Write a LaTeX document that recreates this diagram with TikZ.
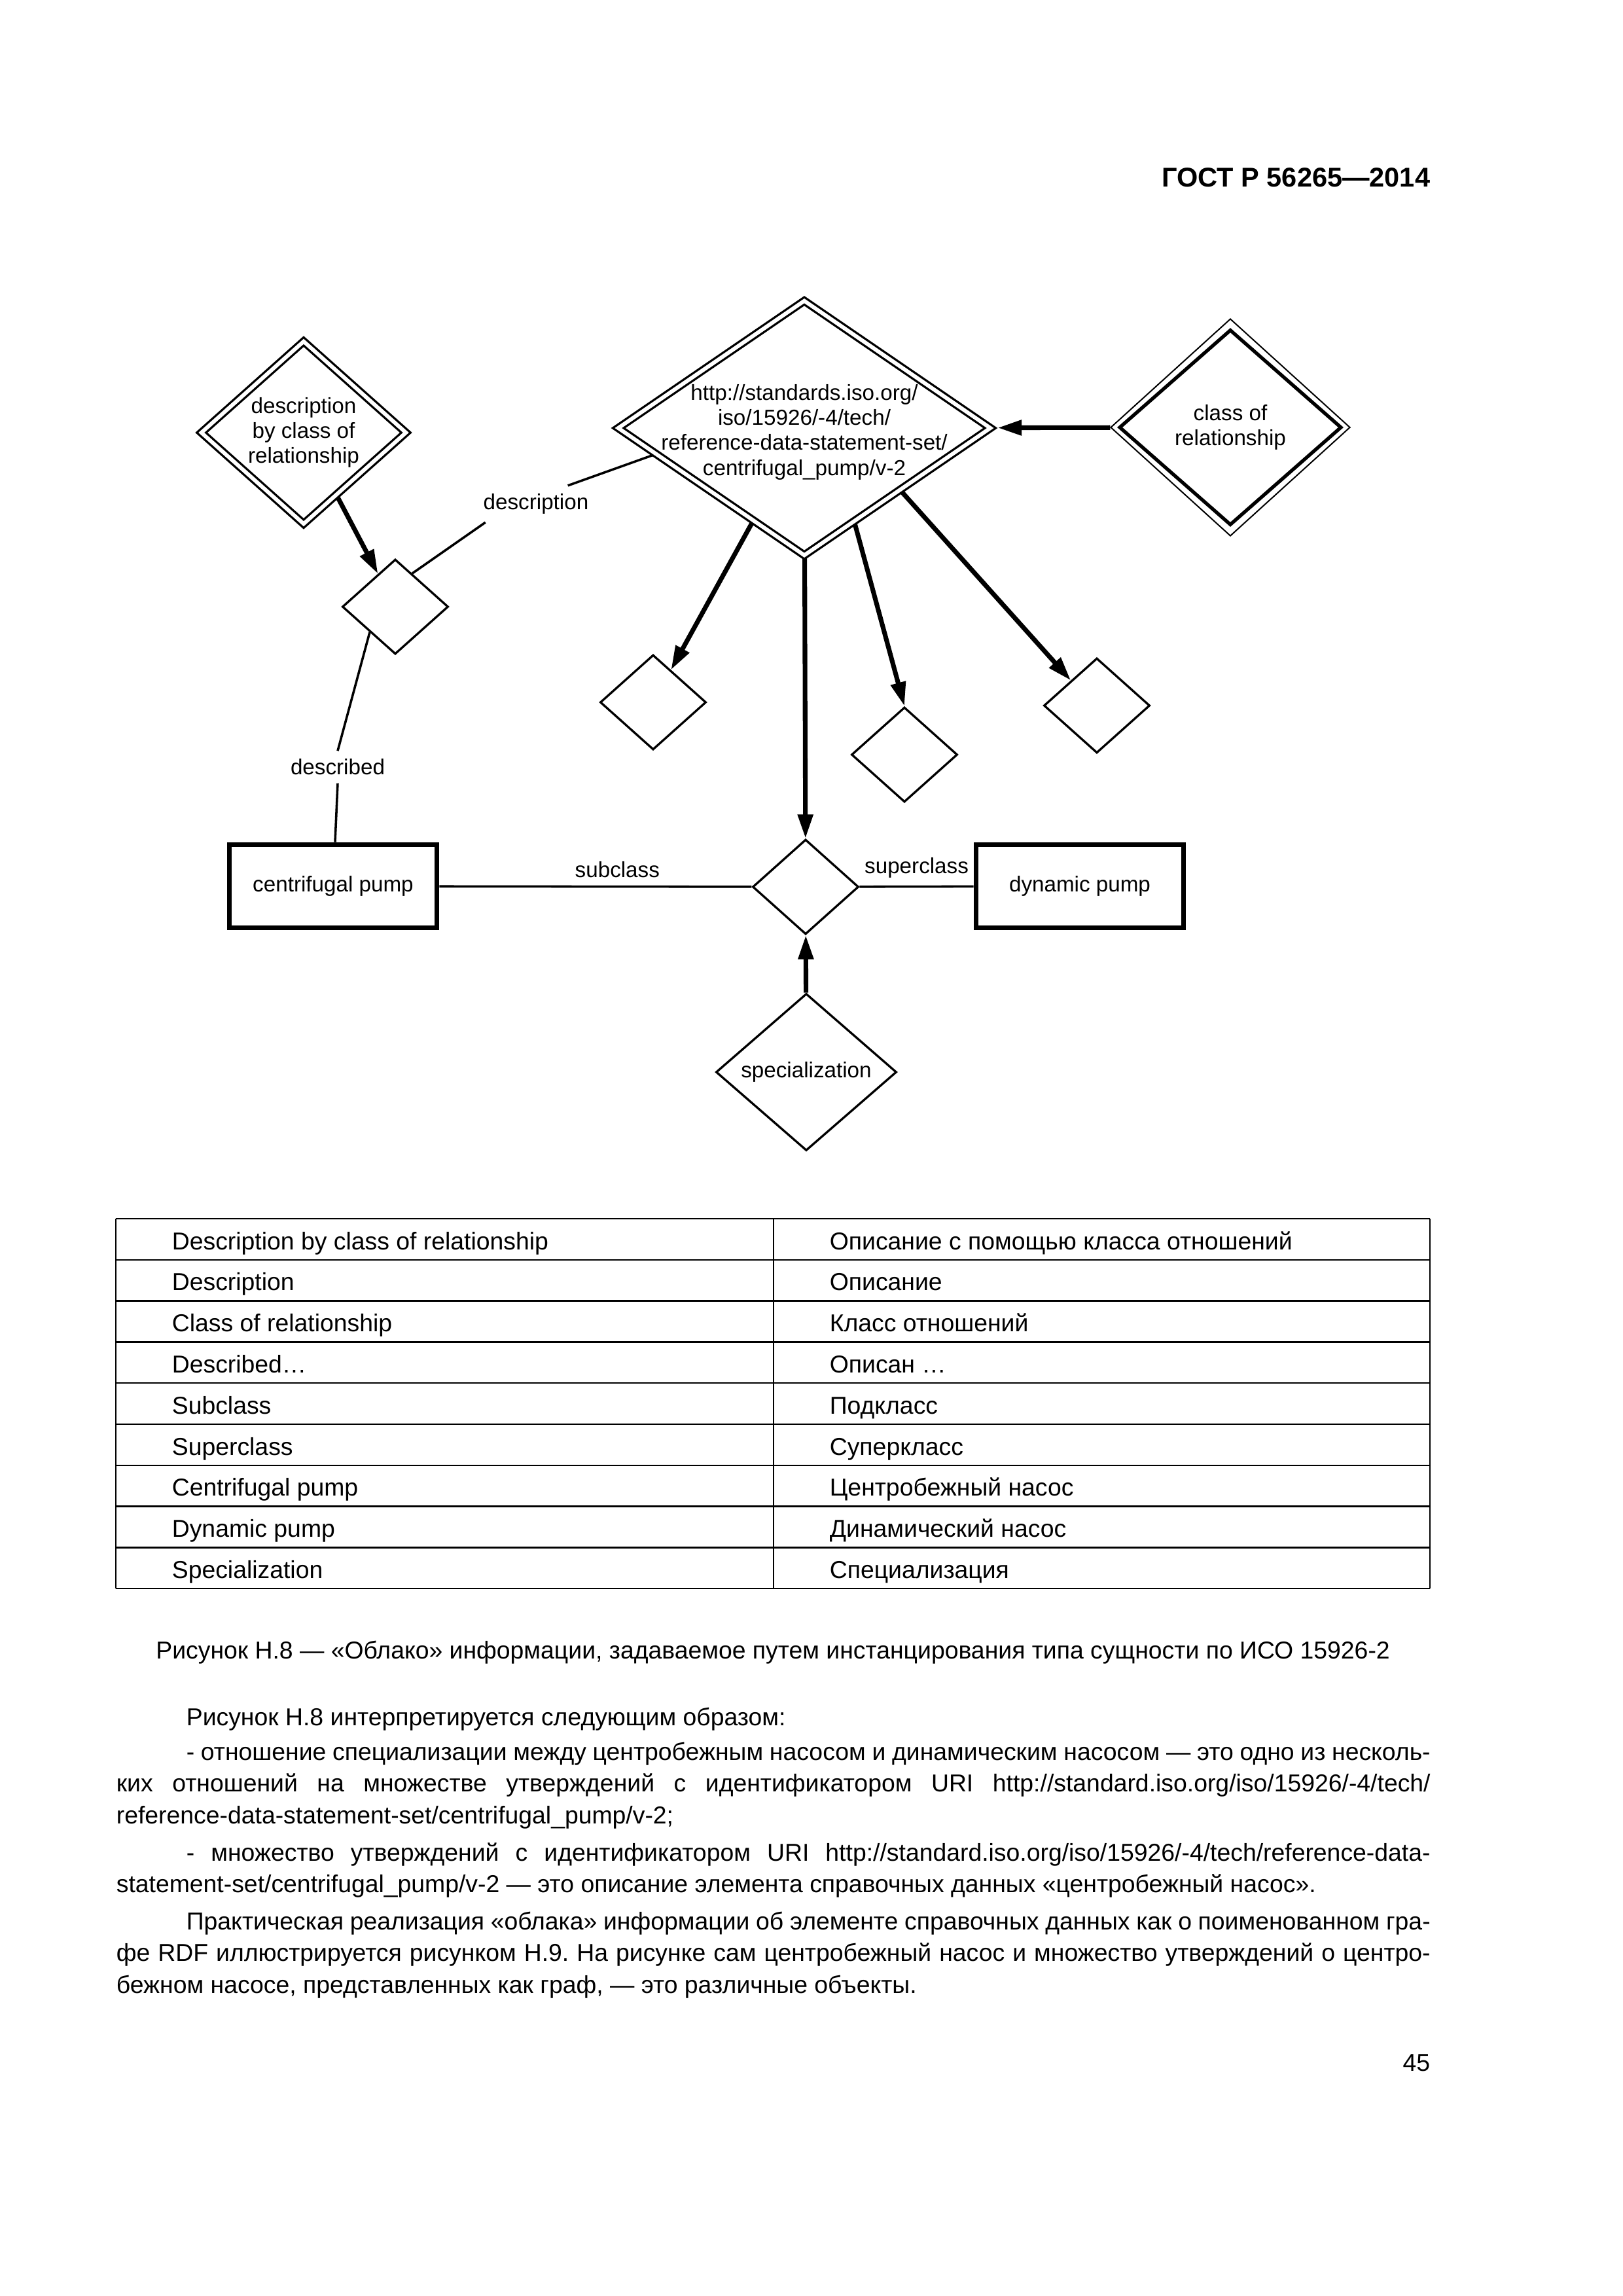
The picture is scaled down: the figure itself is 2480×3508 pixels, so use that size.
\documentclass[tikz,border=0pt]{standalone}
\usepackage{fontspec}
\setmainfont{Liberation Sans}
\usetikzlibrary{shapes.geometric, arrows.meta, backgrounds}
\newlength{\px}
\setlength{\px}{0.0846774mm}
\frenchspacing
\begin{document}
\begin{tikzpicture} [x = \px, y = -\px,
	thinline/.style = {line width = 0.3mm},
	thickarrow/.style = {line width = 0.6mm, -{Triangle[length = 3.1mm, width = 1.9mm]}},
	rel/.style = {draw, diamond, line width = 0.28mm, inner sep = 0pt, minimum width = 162\px, minimum height = 145\px, font = \fontsize{8}{9.25}\selectfont},
	dblrel/.style = {draw, diamond, double, line width = 0.28mm, double distance = 0.5mm, inner sep = 0pt, align = center, font = \fontsize{8}{9.25}\selectfont},
	pump/.style = {draw, rectangle, line width = 0.65mm, minimum width = 317\px, minimum height = 127\px, font = \fontsize{8}{9.25}\selectfont},
	lbl/.style = {inner sep = 1mm, font = \fontsize{8}{9.25}\selectfont},
	cell/.style = {anchor = base west, inner sep = 0pt, font = \fontsize{9}{11}\selectfont},
	para/.style = {anchor = base west, inner sep = 0pt, text width = 170mm, align = justify, font = \fontsize{9}{11.77}\selectfont,
		execute at begin node = {\hyphenpenalty = 10000 \exhyphenpenalty = 10000 \tolerance = 9999}}]
	\useasboundingbox (0,0) rectangle (2480,3508);
	\node [anchor = base east, inner sep = 0pt, font = \bfseries\fontsize{10}{12}\selectfont] (gost) at (2186,285) {ГОСТ Р 56265—2014};

	% relationships
	\node [dblrel, minimum width = 314\px, minimum height = 280\px] (dbcr) at (464,661) {description\\by class of\\relationship};
	\node [dblrel, minimum width = 570\px, minimum height = 390\px] (uri) at (1229,654) {};
	\node [align = center, inner sep = 0pt, font = \fontsize{8}{9.25}\selectfont] (uritext) at (1229,660) {http://standards.iso.org/\\iso/15926/-4/tech/\\reference-data-statement-set/\\centrifugal\_pump/v-2};
	\node [draw, diamond, line width = 0.17mm, inner sep = 0pt, minimum width = 366\px, minimum height = 332\px] (cor) at (1880,653) {};
	\node [draw, diamond, line width = 0.45mm, inner sep = 0pt, minimum width = 340\px, minimum height = 299\px, align = center, font = \fontsize{8}{9.25}\selectfont] (corin) at (cor) {class of\\relationship};
	\node [rel] (dsc) at (604,927) {};
	\node [rel] (da) at (998,1073) {};
	\node [rel] (db) at (1382,1153) {};
	\node [rel] (dc) at (1676,1078) {};
	\node [rel] (spec) at (1231,1355) {};
	\node [rel, minimum width = 276\px, minimum height = 240\px] (spn) at (1232,1638) {specialization};
	\node [pump] (cp) at (509,1354) {centrifugal pump};
	\node [pump] (dp) at (1650,1354) {dynamic pump};
	\node [lbl] (dlbl) at (819,770) {description};
	\node [lbl] (dd) at (516,1172) {described};

	\begin{scope} [on background layer]
	\fill [white] (0,0) rectangle (2480,3508);
	\draw [thickarrow] (dbcr) -- (dsc);
	\draw [thickarrow, shorten >= 0.8mm] (cor) -- (uri);
	\draw [thickarrow] (uri) -- (da);
	\draw [thickarrow] (uri.-62) -- (db.north);
	\draw [thickarrow] (uri.-33) -- (dc.136);
	\draw [thickarrow] (uri) -- (spec);
	\draw [thickarrow] (spn) -- (spec);
	\draw [thinline] (dsc.63) -- (dlbl.200);
	\draw [thinline] (dlbl.30) -- (uri.190);
	\draw [thinline] (dsc.225) -- (dd.north);
	\draw [thinline] (dd.south) -- (cp);
	\draw [thinline] (cp) -- (spec) node [lbl, pos = 0.57, above] (sub) {subclass};
	\draw [thinline] (spec) -- (dp) node [lbl, midway, above] (sup) {superclass};
	\end{scope}

	% table
	\foreach \i in {0,...,9}
		\draw [line width = 0.2mm] (177,{1862+62.8*\i}) -- (2185,{1862+62.8*\i});
	\foreach \x in {177,1182,2185}
		\draw [line width = 0.2mm] (\x,1862) -- (\x,2427);
	\foreach \en/\ru [count = \i from 0] in {Description by class of relationship/Описание с помощью класса отношений,
		Description/Описание, Class of relationship/Класс отношений, Described…/Описан …,
		Subclass/Подкласс, Superclass/Суперкласс, Centrifugal pump/Центробежный насос,
		Dynamic pump/Динамический насос, Specialization/Специализация} {
		\node [cell] (en\i) at (262,{1909+62.8*\i}) {\en};
		\node [cell] (ru\i) at (1267,{1909+62.8*\i}) {\ru};
	}

	\node [anchor = base, font = \fontsize{9}{11}\selectfont] (caption) at (1181,2534) {Рисунок Н.8 — «Облако» информации, задаваемое путем инстанцирования типа сущности по ИСО 15926-2};
	\node [para] (p1) at (177,2636) {\hspace*{107\px}Рисунок Н.8 интерпретируется следующим образом:};
	\node [para] (p2) at (177,2689) {\hspace*{107\px}- отношение специализации между центробежным насосом и динамическим насосом — это одно из несколь-\linebreak ких отношений на множестве утверждений с идентификатором URI http://standard.iso.org/iso/15926/-4/tech/\linebreak reference-data-statement-set/centrifugal\_pump/v-2;};
	\node [para] (p3) at (177,2843) {\hspace*{107\px}- множество утверждений с идентификатором URI http://standard.iso.org/iso/15926/-4/tech/reference-data-\linebreak statement-set/centrifugal\_pump/v-2 — это описание элемента справочных данных «центробежный насос».};
	\node [para] (p4) at (177,2948) {\hspace*{107\px}Практическая реализация «облака» информации об элементе справочных данных как о поименованном гра-\linebreak фе RDF иллюстрируется рисунком Н.9. На рисунке сам центробежный насос и множество утверждений о центро-\linebreak бежном насосе, представленных как граф, — это различные объекты.};
	\node [anchor = base east, inner sep = 0pt, font = \fontsize{9}{11}\selectfont] (pnum) at (2186,3164) {45};
\end{tikzpicture}
\end{document}
